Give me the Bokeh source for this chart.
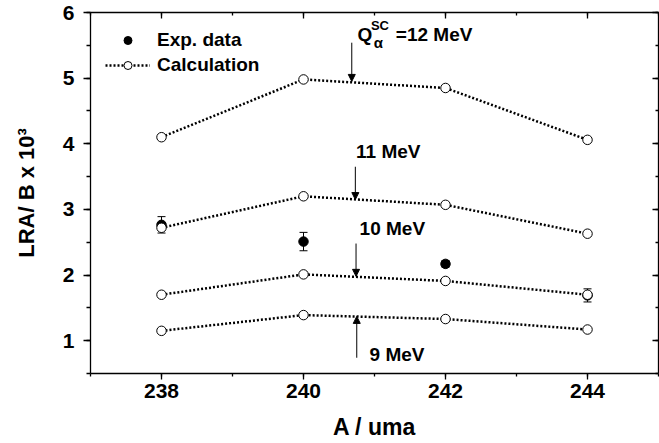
import numpy as np
from bokeh.plotting import figure
from bokeh.models import (ColumnDataSource, Range1d, LinearAxis, SingleIntervalTicker,
                          Label, Arrow, NormalHead, Whisker, TeeHead, Legend, LegendItem,
                          CustomJSTickFormatter)
from bokeh.embed import file_html
from bokeh.resources import INLINE

# ---- data ----
mass = [238, 240, 242, 244]
calc_12 = [4.10, 4.98, 4.85, 4.06]
calc_11 = [2.72, 3.20, 3.07, 2.63]
calc_10 = [1.70, 2.01, 1.91, 1.70]
calc_9 = [1.15, 1.39, 1.33, 1.17]

exp_x = [238, 240, 242, 244]
exp_y = [2.765, 2.51, 2.17, 1.69]
exp_err = [0.125, 0.14, 0.05, 0.10]

arrow_x = [240.68, 240.73, 240.74, 240.75]
arrow_tail = [5.54, 3.65, 2.48, 0.74]
arrow_tip = [4.95, 3.15, 1.98, 1.37]

FONT = "Liberation Sans"

p = figure(width=659, height=443, x_range=Range1d(237, 245), y_range=Range1d(0.5, 6),
           output_backend="svg", toolbar_location=None,
           min_border_left=90, min_border_right=1, min_border_top=12, min_border_bottom=70)
p.grid.visible = False
p.outline_line_color = None
p.background_fill_color = "white"
p.border_fill_color = "white"

xt = SingleIntervalTicker(interval=2, num_minor_ticks=2)
yt = SingleIntervalTicker(interval=1, num_minor_ticks=2)

def style_axis(ax, ticker, out=True, labels=True):
    ax.ticker = ticker
    ax.axis_line_color = "black"
    ax.axis_line_width = 1.3
    ax.major_tick_line_color = "black"
    ax.minor_tick_line_color = "black"
    ax.major_tick_line_width = 1.3
    ax.minor_tick_line_width = 1.3
    if out:
        ax.major_tick_out = 6
        ax.minor_tick_out = 3
        ax.major_tick_in = 0
        ax.minor_tick_in = 0
    else:
        ax.major_tick_out = 0
        ax.minor_tick_out = 0
        ax.major_tick_in = 6
        ax.minor_tick_in = 3
    ax.major_label_text_font = FONT
    ax.major_label_text_font_style = "bold"
    ax.major_label_text_color = "black"
    if labels:
        ax.major_label_text_font_size = "21px"
    else:
        ax.formatter = CustomJSTickFormatter(code="return ''")
        ax.major_label_text_font_size = "1px"
        ax.major_label_standoff = 0

xa = p.xaxis[0]
ya = p.yaxis[0]
style_axis(xa, xt)
style_axis(ya, yt)
ya.major_tick_out = 7
ya.minor_tick_out = 4
ya.major_label_standoff = 9
xa.major_label_standoff = 4
xa.axis_label = "A / uma"
xa.axis_label_standoff = 13
ya.axis_label = "LRA/ B x 10³"
ya.axis_label_standoff = 21
for ax in (xa, ya):
    ax.axis_label_text_font = FONT
    ax.axis_label_text_font_style = "bold"
    ax.axis_label_text_color = "black"
xa.axis_label_text_font_size = "23px"
ya.axis_label_text_font_size = "22px"

top = LinearAxis()
style_axis(top, SingleIntervalTicker(interval=2, num_minor_ticks=2), out=False, labels=False)
p.add_layout(top, "above")
right = LinearAxis()
style_axis(right, SingleIntervalTicker(interval=1, num_minor_ticks=2), out=False, labels=False)
p.add_layout(right, "right")

# error bars
err_src = ColumnDataSource(dict(x=exp_x,
                                lo=[y - e for y, e in zip(exp_y, exp_err)],
                                hi=[y + e for y, e in zip(exp_y, exp_err)]))
wh = Whisker(base="x", lower="lo", upper="hi", source=err_src, line_color="black", line_width=1,
             upper_head=TeeHead(size=8, line_color="black", line_width=1),
             lower_head=TeeHead(size=8, line_color="black", line_width=1))
p.add_layout(wh)

exp_r = p.scatter(exp_x, exp_y, size=9.5, marker="circle", fill_color="black", line_color="black")

calc_renderers = []
for series in [calc_12, calc_11, calc_10, calc_9]:
    lr = p.line(mass, series, line_color="black", line_width=2.5, line_dash="2 2")
    cr = p.scatter(mass, series, size=9.5, marker="circle", fill_color="white",
                   line_color="black", line_width=1)
    calc_renderers.append((lr, cr))

# arrows
arr_src = ColumnDataSource(dict(x=arrow_x, y0=arrow_tail, y1=arrow_tip))
p.add_layout(Arrow(x_start="x", y_start="y0", x_end="x", y_end="y1", source=arr_src,
                   line_color="black", line_width=1,
                   end=NormalHead(size=7, fill_color="black", line_color="black", line_width=1)))

def lab(x, y, text, size="19px", **kw):
    p.add_layout(Label(x=x, y=y, text=text, text_font=FONT, text_font_style="bold",
                       text_font_size=size, text_color="black", **kw))

lab(240.76, 5.51, "Q")
lab(240.95, 5.69, "SC", size="13px")
lab(240.99, 5.42, "α", size="15px")
lab(241.30, 5.51, "=12 MeV")
lab(240.74, 3.72, "11 MeV")
lab(240.79, 2.55, "10 MeV")
lab(240.93, 0.636, "9 MeV")

legend = Legend(items=[LegendItem(label="Exp. data", renderers=[exp_r]),
                       LegendItem(label="Calculation", renderers=list(calc_renderers[0]))],
                location=(15, 297), glyph_width=45, glyph_height=20, label_standoff=7,
                spacing=3, padding=0, margin=0, background_fill_alpha=0, border_line_alpha=0,
                label_text_font=FONT, label_text_font_style="bold", label_text_font_size="19px",
                label_text_color="black")
p.add_layout(legend)

open("out.html", "w").write(file_html(p, INLINE))
